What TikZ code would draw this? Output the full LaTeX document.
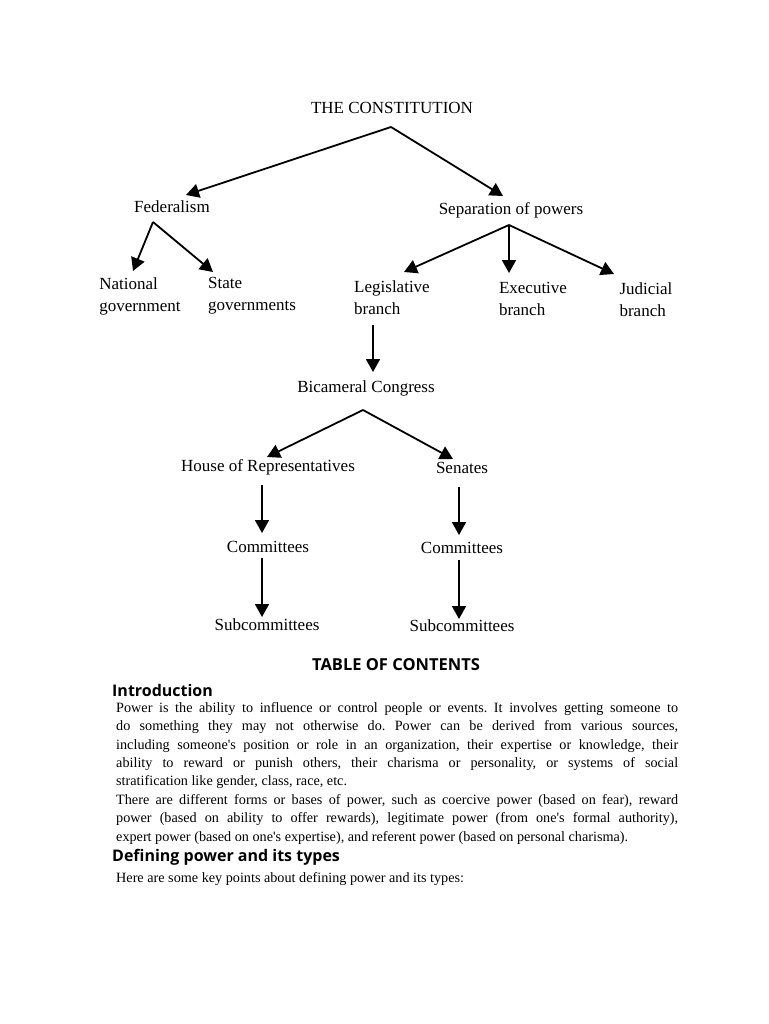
\documentclass[tikz,border=0pt]{standalone}
\usepackage{fontspec}
\setmainfont{Liberation Serif}
\newfontfamily\headfont{Open Sans}
\usetikzlibrary{arrows.meta}
\newcommand{\apos}{\textquotesingle}

\begin{document}
\begin{tikzpicture}[x=1pt, y=-1pt,
        lbl/.style={font=\fontsize{17}{22}\selectfont, inner sep=0pt, align=left},
        arr/.style={-{Triangle[length=13pt,width=14pt]}, line width=1.8pt},
        head/.style={font=\headfont\bfseries\fontsize{16}{20}\selectfont, inner sep=0pt, anchor=west},
        body/.style={font=\fontsize{14.2}{18.4}\selectfont, text width=562pt, align=justify, inner sep=0pt, anchor=north west}]
        \useasboundingbox[fill=white] (0,0) rectangle (768,1024);

        % Nodes
        \draw (392,108) node(const) [lbl] {THE CONSTITUTION};
        \draw (172,207) node(fed)   [lbl] {Federalism};
        \draw (511,210) node(sep)   [lbl] {Separation of powers};
        \draw (140,296) node(nat)   [lbl] {National\\government};
        \draw (252,296) node(state) [lbl] {State\\governments};
        \draw (392,298) node(leg)   [lbl] {Legislative\\branch};
        \draw (533,299) node(exe)   [lbl] {Executive\\branch};
        \draw (646,300) node(jud)   [lbl] {Judicial\\branch};
        \draw (366,388) node(bic)   [lbl] {Bicameral Congress};
        \draw (268,467) node(house) [lbl] {House of Representatives};
        \draw (462,468) node(sen)   [lbl] {Senates};
        \draw (268,547) node(comA)  [lbl] {Committees};
        \draw (267,625) node(subA)  [lbl] {Subcommittees};
        \draw (462,548) node(comB)  [lbl] {Committees};
        \draw (462,626) node(subB)  [lbl] {Subcommittees};

        % Edges
        \path[arr] ([shift={(-1,19)}]const.center) edge ([shift={(14,-12)}]fed.center);
        \path[arr] ([shift={(-1,19)}]const.center) edge ([shift={(-8,-14)}]sep.center);
        \path[arr] ([shift={(-19,15)}]fed.center) edge ([shift={(-7,-25)}]nat.center);
        \path[arr] ([shift={(-19,15)}]fed.center) edge ([shift={(-39,-24)}]state.center);
        \path[arr] ([shift={(-2,15)}]sep.center) edge ([shift={(12,-26)}]leg.center);
        \path[arr] ([shift={(-2,15)}]sep.center) edge ([shift={(-24,-26)}]exe.center);
        \path[arr] ([shift={(-2,15)}]sep.center) edge ([shift={(-32,-26)}]jud.center);
        \path[arr] ([shift={(-19,27)}]leg.center) edge ([shift={(7,-16)}]bic.center);
        \path[arr] ([shift={(-3,22)}]bic.center) edge ([shift={(-1,-10)}]house.center);
        \path[arr] ([shift={(-3,22)}]bic.center) edge ([shift={(-9,-9)}]sen.center);
        \path[arr] ([shift={(-6,18)}]house.center) edge ([shift={(-6,-14)}]comA.center);
        \path[arr] ([shift={(-6,11)}]comA.center) edge ([shift={(-5,-8)}]subA.center);
        \path[arr] ([shift={(-3,19)}]sen.center) edge ([shift={(-3,-13)}]comB.center);
        \path[arr] ([shift={(-3,12)}]comB.center) edge ([shift={(-3,-7)}]subB.center);

        % Text below
        \draw (396,665) node(toc) [font=\headfont\bfseries\fontsize{16.5}{20}\selectfont, inner sep=0pt] {TABLE OF CONTENTS};
        \draw (112,690) node(intro) [head] {Introduction};
        \draw (116,702) node(introtext) [body] {\frenchspacing Power is the ability to influence or control people or events. It involves getting someone to\linebreak
do something they may not otherwise do. Power can be derived from various sources,\linebreak
including someone\apos s position or role in an organization, their expertise or knowledge, their\linebreak
ability to reward or punish others, their charisma or personality, or systems of social\linebreak
stratification like gender, class, race, etc.\par
There are different forms or bases of power, such as coercive power (based on fear), reward\linebreak
power (based on ability to offer rewards), legitimate power (from one\apos s formal authority),\linebreak
expert power (based on one\apos s expertise), and referent power (based on personal charisma).};
        \draw (112,857) node(types) [head] {Defining power and its types};
        \draw (116,872) node(typestext) [body] {Here are some key points about defining power and its types:};
\end{tikzpicture}
\end{document}
